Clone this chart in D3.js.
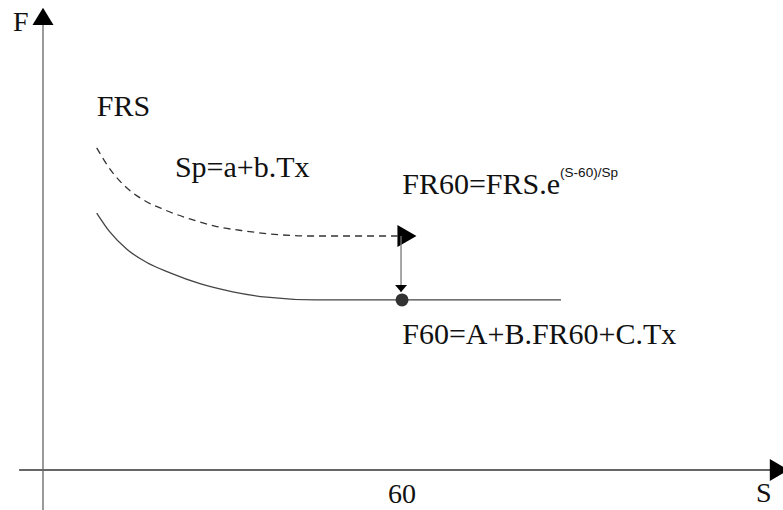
<!DOCTYPE html>
<html>
<head>
<meta charset="utf-8">
<script src="https://cdn.jsdelivr.net/npm/d3@7"></script>
<style>
  html, body { margin: 0; padding: 0; background: #fff; }
  svg { display: block; }
  text { font-family: "Liberation Serif", "Times New Roman", serif; fill: #111; }
</style>
</head>
<body>
<svg id="chart" width="783" height="510"></svg>
<script>
// ---- data (S on x axis, F on y axis, arbitrary units) ----
const frsS = [9.0, 11.2, 13.7, 16.6, 20.4, 24.6, 28.8, 33.9, 39.4, 44.7, 59.4];
const frsF = [71.6, 66.9, 63.1, 60.2, 57.8, 55.8, 54.2, 53.1, 52.3, 52.0, 52.0];
const f60S = [9.0, 11.2, 14.1, 17.4, 21.3, 26.3, 31.8, 37.5, 45.6, 86.8];
const f60F = [57.1, 52.9, 49.0, 46.1, 43.8, 41.4, 39.6, 38.4, 37.8, 37.8];
const markS = 60;
const xTicks = [60];
const xTickLabels = ["60"];
const axisLabels = { x: "S", y: "F" };

const svg = d3.select("#chart");
const x = d3.scaleLinear().domain([0, 122]).range([43, 771]);
const y = d3.scaleLinear().domain([0, 100]).range([470, 20]);

const g = svg.append("g");

// ---- axes ----
g.append("line")
  .attr("x1", x(0)).attr("x2", x(0))
  .attr("y1", y(-9)).attr("y2", y(99))
  .attr("stroke", "#9a9a9a").attr("stroke-width", 2);
g.append("path")
  .attr("d", `M${x(0)-10.5},${y(99)+0.5} L${x(0)+10.5},${y(99)+0.5} L${x(0)},${y(102.7)} Z`)
  .attr("fill", "#000");

g.append("line")
  .attr("x1", x(-4)).attr("x2", x(122))
  .attr("y1", y(0)).attr("y2", y(0))
  .attr("stroke", "#666").attr("stroke-width", 2);
g.append("path")
  .attr("d", `M${x(121.8)},${y(0)-11} L${x(121.8)},${y(0)+11} L${x(121.8)+19},${y(0)} Z`)
  .attr("fill", "#000");

// axis labels and tick label
g.append("text").attr("x", x(0) - 30).attr("y", y(97.5))
  .attr("font-size", 28).text(axisLabels.y);
g.append("text").attr("x", x(119.5)).attr("y", y(-7))
  .attr("font-size", 28).text(axisLabels.x);
g.selectAll(".tick").data(xTicks).enter().append("text")
  .attr("x", d => x(d) + 1).attr("y", y(-7.3))
  .attr("text-anchor", "middle").attr("font-size", 28)
  .text((d, i) => xTickLabels[i]);

// ---- curves ----
const lineGen = d3.line().x(d => x(d[0])).y(d => y(d[1])).curve(d3.curveMonotoneX);

g.append("path")
  .datum(frsS.map((s, i) => [s, frsF[i]]))
  .attr("d", lineGen)
  .attr("fill", "none").attr("stroke", "#333").attr("stroke-width", 1.3)
  .attr("stroke-dasharray", "7,5");

g.append("path")
  .datum(f60S.map((s, i) => [s, f60F[i]]))
  .attr("d", lineGen)
  .attr("fill", "none").attr("stroke", "#444").attr("stroke-width", 1.3);

// horizontal arrowhead at end of dashed line
const aX = x(frsS[frsS.length - 1]), aY = y(frsF[frsF.length - 1]);
g.append("path")
  .attr("d", `M${aX},${aY - 11} L${aX},${aY + 11} L${aX + 19},${aY} Z`)
  .attr("fill", "#000");

// vertical connector at S = 60
const topY = y(frsF[frsF.length - 1]);
const botY = y(f60F[f60F.length - 1]);
g.append("line")
  .attr("x1", x(markS)).attr("x2", x(markS))
  .attr("y1", topY).attr("y2", botY - 8)
  .attr("stroke", "#777").attr("stroke-width", 1.3);
g.append("path")
  .attr("d", `M${x(markS)-6},${botY - 15} L${x(markS)+6},${botY - 15} L${x(markS)},${botY - 8} Z`)
  .attr("fill", "#000");
g.append("circle")
  .attr("cx", x(markS) + 1).attr("cy", botY)
  .attr("r", 6.5).attr("fill", "#333");

// ---- annotations ----
g.append("text").attr("x", x(9.0)).attr("y", y(78.7)).attr("font-size", 30).text("FRS");
g.append("text").attr("x", x(22.1)).attr("y", y(65.1)).attr("font-size", 30).text("Sp=a+b.Tx");
const t1 = g.append("text").attr("x", x(60.2)).attr("y", y(61.3)).attr("font-size", 30);
t1.append("tspan").text("FR60=FRS.e");
t1.append("tspan").attr("dy", -17).attr("font-size", 12.5)
  .attr("font-family", "Liberation Sans, Arial, sans-serif")
  .attr("textLength", 58).attr("lengthAdjust", "spacingAndGlyphs")
  .text("(S-60)/Sp");
g.append("text").attr("x", x(60.2)).attr("y", y(27.9)).attr("font-size", 30).text("F60=A+B.FR60+C.Tx");
</script>
</body>
</html>
